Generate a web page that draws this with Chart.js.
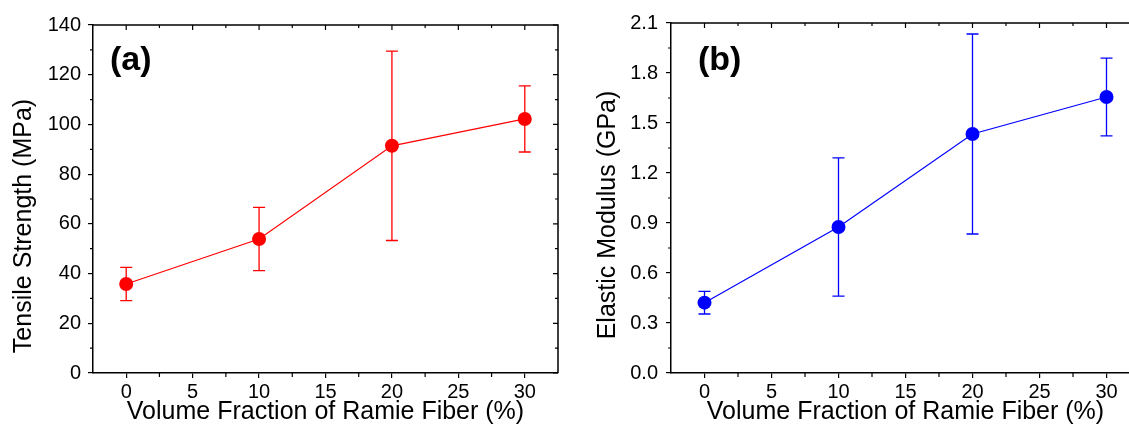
<!DOCTYPE html>
<html lang="en">
<head>
  <meta charset="UTF-8">
  <title>Ramie fiber composites</title>
  <style>
    html, body { margin: 0; padding: 0; background: #fff; overflow: hidden; }
    .panel { position: absolute; top: 0; height: 432px; }
    #boxA { left: 0; width: 565px; }
    #boxB { left: 565px; width: 600px; }
  </style>
</head>
<body>
  <div class="panel" id="boxA"><canvas id="chartA"></canvas></div>
  <div class="panel" id="boxB"><canvas id="chartB"></canvas></div>

  <script src="https://cdn.jsdelivr.net/npm/chart.js"></script>
  <script>
    // data
    const fiberFraction = [0, 10, 20, 30];
    const tensileStrength = [35.8, 53.9, 91.4, 102.2];
    const tensileErr = [6.7, 12.7, 38.1, 13.3];
    const elasticModulus = [0.422, 0.876, 1.434, 1.656];
    const modulusErr = [0.068, 0.415, 0.6, 0.233];

    const xTicks = [0, 5, 10, 15, 20, 25, 30];
    const yTicksA = [0, 20, 40, 60, 80, 100, 120, 140];
    const yTicksB = [0, 0.3, 0.6, 0.9, 1.2, 1.5, 1.8, 2.1];

    const FONT = "'Liberation Sans', Arial, sans-serif";

    function midpoints(arr) {
      const out = [];
      for (let i = 0; i < arr.length - 1; i++) out.push((arr[i] + arr[i + 1]) / 2);
      return out;
    }

    // error bars, drawn under the markers
    const errorBars = {
      id: "errorBars",
      beforeDatasetsDraw(chart) {
        const ctx = chart.ctx;
        const xs = chart.scales.x, ys = chart.scales.y;
        chart.data.datasets.forEach(ds => {
          if (!ds.errors) return;
          ctx.save();
          ctx.strokeStyle = ds.borderColor;
          ctx.lineWidth = 1.3;
          ds.data.forEach((p, i) => {
            const e = ds.errors[i];
            const x = xs.getPixelForValue(p.x);
            const y1 = ys.getPixelForValue(p.y + e);
            const y2 = ys.getPixelForValue(p.y - e);
            ctx.beginPath();
            ctx.moveTo(x, y1); ctx.lineTo(x, y2);
            ctx.moveTo(x - 6, y1); ctx.lineTo(x + 6, y1);
            ctx.moveTo(x - 6, y2); ctx.lineTo(x + 6, y2);
            ctx.stroke();
          });
          ctx.restore();
        });
      }
    };

    // top/right frame, mirrored ticks, minor ticks, y title and the panel letter
    const frame = {
      id: "frame",
      afterDraw(chart, args, opts) {
        const ctx = chart.ctx;
        const a = chart.chartArea;
        const xs = chart.scales.x, ys = chart.scales.y;
        ctx.save();
        ctx.strokeStyle = "#000";
        ctx.lineWidth = 1.5;
        ctx.beginPath();
        ctx.moveTo(a.left, a.top); ctx.lineTo(a.right, a.top); ctx.lineTo(a.right, a.bottom);
        ctx.stroke();

        ctx.lineWidth = 1.2;
        ctx.beginPath();
        opts.xMajor.forEach(v => {
          const x = xs.getPixelForValue(v);
          ctx.moveTo(x, a.top); ctx.lineTo(x, a.top + 5);
        });
        midpoints(opts.xMajor).forEach(v => {
          const x = xs.getPixelForValue(v);
          ctx.moveTo(x, a.top); ctx.lineTo(x, a.top + 3);
          ctx.moveTo(x, a.bottom); ctx.lineTo(x, a.bottom + 4);
        });
        opts.yMajor.forEach(v => {
          const y = ys.getPixelForValue(v);
          ctx.moveTo(a.right, y); ctx.lineTo(a.right - 5, y);
        });
        midpoints(opts.yMajor).forEach(v => {
          const y = ys.getPixelForValue(v);
          ctx.moveTo(a.right, y); ctx.lineTo(a.right - 3, y);
          ctx.moveTo(a.left, y); ctx.lineTo(a.left - 3, y);
        });
        ctx.stroke();

        ctx.fillStyle = "#000";
        ctx.font = "bold 34px " + FONT;
        ctx.textBaseline = "alphabetic";
        ctx.fillText(opts.letter, a.left + opts.letterDx, 70);

        // y axis title
        ctx.font = "25px " + FONT;
        ctx.textAlign = "center";
        ctx.textBaseline = "middle";
        ctx.translate(opts.titleX, opts.titleY);
        ctx.rotate(-Math.PI / 2);
        ctx.fillText(opts.yTitle, 0, 0);
        ctx.restore();
      }
    };

    function makeChart(canvasId, cfg) {
      return new Chart(document.getElementById(canvasId), {
        type: "line",
        data: {
          datasets: [{
            data: fiberFraction.map((x, i) => ({ x: x, y: cfg.values[i] })),
            errors: cfg.errors,
            borderColor: cfg.color,
            backgroundColor: cfg.color,
            borderWidth: 1.2,
            pointRadius: 7,
            pointHoverRadius: 7,
            pointBorderWidth: 0,
            pointBackgroundColor: cfg.color
          }]
        },
        options: {
          responsive: true,
          maintainAspectRatio: false,
          animation: false,
          events: [],
          layout: { padding: { left: 0, right: cfg.padRight, top: cfg.padTop, bottom: 0 } },
          plugins: {
            legend: { display: false },
            tooltip: { enabled: false },
            frame: {
              letter: cfg.letter, letterDx: cfg.letterDx,
              xMajor: xTicks, yMajor: cfg.yTicks,
              yTitle: cfg.yTitle, titleX: cfg.titleX, titleY: cfg.titleY
            }
          },
          scales: {
            x: {
              type: "linear",
              min: -2.5,
              max: 32.5,
              afterBuildTicks: s => { s.ticks = xTicks.map(v => ({ value: v })); },
              afterFit: s => { s.height = 59; },
              grid: { drawOnChartArea: false, drawTicks: true, tickLength: 5, color: "#000", lineWidth: 1.2 },
              border: { display: true, color: "#000", width: 1.5 },
              ticks: { color: "#000", font: { family: FONT, size: 20 }, padding: 2, maxRotation: 0 },
              title: {
                display: true,
                text: "Volume Fraction of Ramie Fiber (%)",
                color: "#000",
                font: { family: FONT, size: 25 },
                padding: { top: 0, bottom: 5 }
              }
            },
            y: {
              type: "linear",
              min: cfg.yTicks[0],
              max: cfg.yTicks[cfg.yTicks.length - 1],
              afterBuildTicks: s => { s.ticks = cfg.yTicks.map(v => ({ value: v })); },
              afterFit: s => { s.width = cfg.yWidth; },
              grid: { drawOnChartArea: false, drawTicks: true, tickLength: 5, color: "#000", lineWidth: 1.2 },
              border: { display: true, color: "#000", width: 1.5 },
              ticks: {
                color: "#000",
                font: { family: FONT, size: 20 },
                padding: cfg.tickPad,
                callback: cfg.fmt
              },
              title: { display: false }
            }
          }
        },
        plugins: [errorBars, frame]
      });
    }

    document.addEventListener("DOMContentLoaded", () => {
      makeChart("chartA", {
        values: tensileStrength,
        errors: tensileErr,
        color: "#ff0000",
        yTicks: yTicksA,
        yTitle: "Tensile Strength (MPa)",
        fmt: v => String(v),
        yWidth: 93,
        padRight: 5,
        padTop: 25,
        tickPad: 7,
        titleX: 24,
        titleY: 226,
        letter: "(a)",
        letterDx: 17
      });
      makeChart("chartB", {
        values: elasticModulus,
        errors: modulusErr,
        color: "#0000ff",
        yTicks: yTicksB,
        yTitle: "Elastic Modulus (GPa)",
        fmt: v => v.toFixed(1),
        yWidth: 106,
        padRight: 25,
        padTop: 23,
        tickPad: 8,
        titleX: 43,
        titleY: 215,
        letter: "(b)",
        letterDx: 27
      });
    });
  </script>
</body>
</html>
